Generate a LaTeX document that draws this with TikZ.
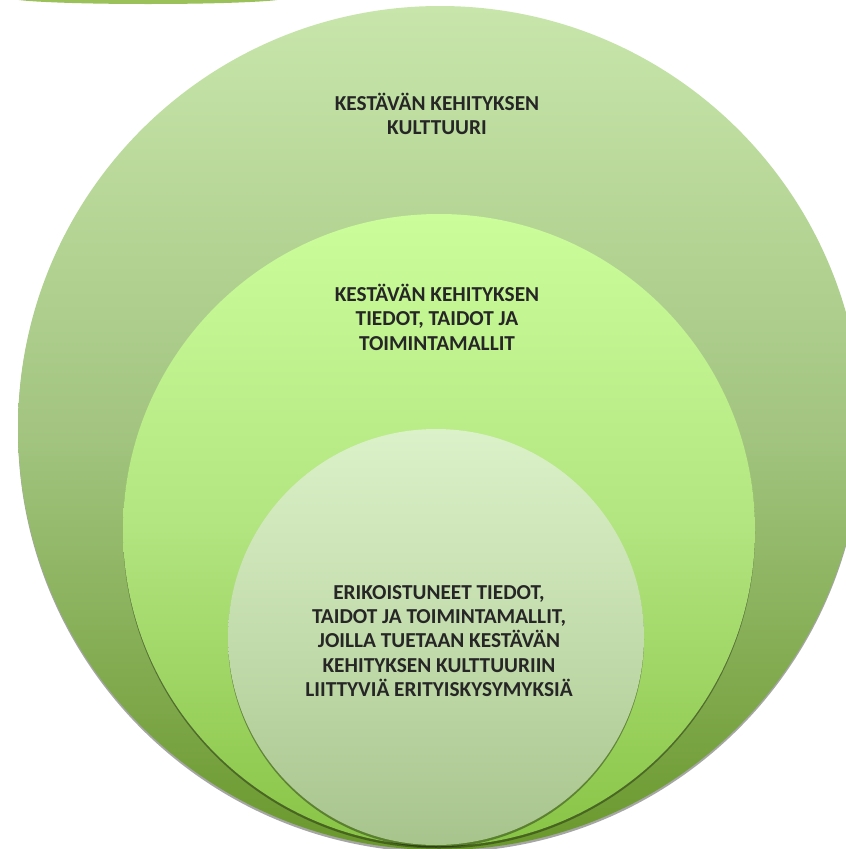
\documentclass[tikz,border=0pt]{standalone}
\usepackage{fontspec}
\setmainfont{Carlito}
\usetikzlibrary{shadows}
\definecolor{txt}{HTML}{262626}
\definecolor{oTop}{HTML}{C8E6AB}
\definecolor{oMid}{HTML}{A3C581}
\definecolor{oBot}{HTML}{6A982C}
\definecolor{mTop}{HTML}{CBFD9B}
\definecolor{mMid}{HTML}{B2E47F}
\definecolor{mBot}{HTML}{88C445}
\definecolor{iTop}{HTML}{DBF1C9}
\definecolor{iMid}{HTML}{C3DCAC}
\definecolor{iBot}{HTML}{A8C48D}
\definecolor{arcC}{HTML}{9BC25A}
\tikzset{
  ring/.style={drop shadow={shadow xshift=0pt,shadow yshift=-2.5pt,opacity=0.35,fill=black}},
  lbl/.style={align=center,text=txt,inner sep=0pt,
    font=\fontsize{21.3}{24.4}\selectfont\bfseries},
}
\begin{document}
\begin{tikzpicture}[x=1pt,y=-1pt]
\useasboundingbox (0,0) rectangle (846,849);
\clip (0,0) rectangle (846,849);
\fill[white] (0,0) rectangle (846,849);
% arc at top left
\fill[arcC] (148,-2) ellipse [x radius=137, y radius=6];
% outer circle
\path[ring, top color=oTop, bottom color=oBot, middle color=oMid] (440,428) circle [radius=422];
% middle circle
\path[ring, top color=mTop, bottom color=mBot, middle color=mMid] (439,530) circle [radius=316];
% inner circle
\path[ring, top color=iTop, bottom color=iBot, middle color=iMid] (436,637) circle [radius=208];
\node[lbl] (outer) at (437,114) {KESTÄVÄN KEHITYKSEN\\KULTTUURI};
\node[lbl] (middle) at (437,317) {KESTÄVÄN KEHITYKSEN\\TIEDOT, TAIDOT JA\\TOIMINTAMALLIT};
\node[lbl] (inner) at (439,641) {ERIKOISTUNEET TIEDOT,\\TAIDOT JA TOIMINTAMALLIT,\\JOILLA TUETAAN KESTÄVÄN\\KEHITYKSEN KULTTUURIIN\\LIITTYVIÄ ERITYISKYSYMYKSIÄ};
\end{tikzpicture}
\end{document}
